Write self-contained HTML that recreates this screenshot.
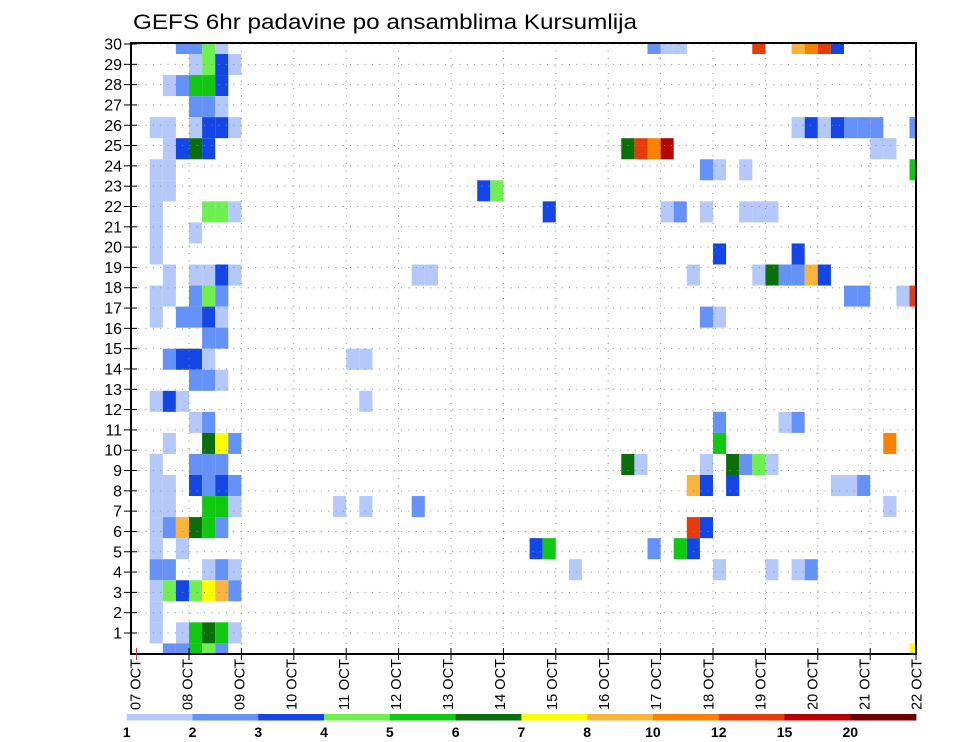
<!DOCTYPE html>
<html><head><meta charset="utf-8"><style>
html,body{margin:0;padding:0;background:#fff;}
svg{display:block;font-family:"Liberation Sans",sans-serif;}
</style></head><body>
<svg id="chart" width="960" height="742" viewBox="0 0 960 742">
<text x="133" y="29" font-size="21" textLength="504" lengthAdjust="spacingAndGlyphs" fill="#000">GEFS 6hr padavine po ansamblima Kursumlija</text>
<g id="cells"></g>
<g id="grid"></g>
<rect x="131" y="43" width="785" height="611" fill="none" stroke="#000" stroke-width="2"/>
<g id="yaxis"></g>
<g id="xaxis"></g>
<g id="colorbar"></g>
</svg>
<script>
const NS="http://www.w3.org/2000/svg";
// data: ensemble member, 6-hour step index, precipitation value (mm)
const cellMember=[30,30,30,30,30,30,30,30,30,30,30,30, 29,29,29,29, 28,28,28,28,28, 27,27,27,
26,26,26,26,26,26,26,26,26,26,26,26,26,26, 25,25,25,25,25,25,25,25,25,25, 24,24,24,24,24,24, 23,23,23,23,
22,22,22,22,22,22,22,22,22,22,22, 21,21, 20,20,20, 19,19,19,19,19,19,19,19,19,19,19,19,19,19,
18,18,18,18,18,18,18,18,18, 17,17,17,17,17,17,17, 16,16, 15,15,15,15,15,15, 14,14,14, 13,13,13,13,
12,12,12,12,12, 11,11,11,11,11,11, 10,10,10,10,10,10,10,10,10,10,10, 9,9,9,9,9,9,9,9,9,9,9,9,
8,8,8,8,8,8,8,8,8, 7,7,7,7,7,7,7,7, 6,6,6,6,6,6,6, 5,5,5,5,5,5,5,5,5,5, 4,4,4,4,4,4,4, 3, 2,2,2,2,2,2, 1,1,1,1,1,1];
const cellStep=[3,4,5,6,39,40,41,47,50,51,52,53, 4,5,6,7, 2,3,4,5,6, 4,5,6,
1,2,4,5,6,7,50,51,52,53,54,55,56,59, 2,3,4,5,37,38,39,40,56,57, 1,2,43,44,46,59, 1,2,26,27,
1,5,6,7,31,40,41,43,46,47,48, 1,4, 1,44,50, 2,4,5,6,7,21,22,42,47,48,49,50,51,52,
1,2,4,5,6,54,55,58,59, 1,3,4,5,6,43,44, 5,6, 2,3,4,5,16,17, 4,5,6, 1,2,3,17,
4,5,44,49,50, 2,5,6,7,44,57, 1,4,5,6,37,38,43,45,46,47,48, 1,2,4,5,6,7,42,43,45,53,54,55,
1,2,5,6,7,15,17,21,57, 1,2,3,4,5,6,42,43, 1,3,30,31,39,41,42, 1,2,5,6,7,33,44,48,50,51, 1,2,3,4,5,6,7, 1, 1,3,4,5,6,7, 2,3,4,5,6,59];
const cellValue=[2.5,2.5,4.5,1.5,2.5,1.5,1.5,13.5,9,11,13.5,3.5, 1.5,4.5,3.5,1.5, 1.5,2.5,5.5,5.5,3.5, 2.5,2.5,1.5,
1.5,1.5,1.5,3.5,3.5,1.5,1.5,3.5,1.5,3.5,2.5,2.5,2.5,2.5, 1.5,3.5,6.5,3.5,6.5,13.5,11,17,1.5,1.5, 1.5,1.5,2.5,1.5,1.5,5.5, 1.5,1.5,3.5,4.5,
1.5,4.5,4.5,1.5,3.5,1.5,2.5,1.5,1.5,1.5,1.5, 1.5,1.5, 1.5,3.5,3.5, 1.5,1.5,1.5,3.5,1.5,1.5,1.5,1.5,1.5,6.5,2.5,2.5,9,3.5,
1.5,1.5,2.5,4.5,2.5,2.5,2.5,1.5,13.5, 1.5,2.5,2.5,3.5,1.5,2.5,1.5, 2.5,2.5, 2.5,3.5,3.5,1.5,1.5,1.5, 2.5,2.5,1.5, 1.5,3.5,1.5,1.5,
1.5,2.5,2.5,1.5,2.5, 1.5,6.5,7.5,2.5,5.5,11, 1.5,2.5,2.5,2.5,6.5,1.5,1.5,6.5,2.5,4.5,1.5, 1.5,1.5,3.5,2.5,3.5,2.5,9,3.5,3.5,1.5,1.5,2.5,
1.5,1.5,5.5,5.5,1.5,1.5,1.5,2.5,1.5, 1.5,2.5,9,6.5,5.5,2.5,13.5,3.5, 1.5,1.5,3.5,5.5,2.5,5.5,3.5, 2.5,2.5,1.5,2.5,1.5,1.5,1.5,1.5,1.5,2.5, 1.5,4.5,3.5,4.5,7.5,9,2.5, 1.5, 1.5,1.5,5.5,6.5,5.5,1.5, 2.5,2.5,5.5,4.5,2.5,7.5];
const levelBounds=[1,2,3,4,5,6,7,8,10,12,15,20];
const levelColors=["#b4c8fa","#6492f8","#1446e6","#6ef050","#10c810","#0a6e0a","#ffff00","#fab43c","#fa8200","#e63c0a","#b40000","#6e0000"];
const dayLabels=["07","08","09","10","11","12","13","14","15","16","17","18","19","20","21","22"];
const memberTicks=[1,2,3,4,5,6,7,8,9,10,11,12,13,14,15,16,17,18,19,20,21,22,23,24,25,26,27,28,29,30];

// axis functions
const X0=136.6, CW=13.1, PL=131, PR=916, PT=43, PB=654;
function xStep(k){return X0+CW*k;}
function xDay(d){return X0+52.4*d;}
function yCellTop(m){return 54+(29-m)*21.05;}
const RH=21.05;
function yTick(m){return 633-(m-1)*20.31;}
function colorOf(v){let i=0;for(let j=0;j<levelBounds.length;j++){if(v>=levelBounds[j])i=j;}return levelColors[i];}

const gC=document.getElementById('cells');
for(let i=0;i<cellMember.length;i++){
  let x=xStep(cellStep[i]), y=yCellTop(cellMember[i]);
  let x2=Math.min(x+CW,PR), y2=Math.min(y+RH,PB);
  let x1=Math.max(x,PL), y1=Math.max(y,PT);
  const r=document.createElementNS(NS,'rect');
  r.setAttribute('x',x1);r.setAttribute('y',y1);
  r.setAttribute('width',Math.max(0,x2-x1));r.setAttribute('height',Math.max(0,y2-y1));
  r.setAttribute('fill',colorOf(cellValue[i]));
  
  
  gC.appendChild(r);
}
const gG=document.getElementById('grid');
for(const m of memberTicks){
  const l=document.createElementNS(NS,'line');
  l.setAttribute('x1',PL);l.setAttribute('x2',PR);l.setAttribute('y1',yTick(m));l.setAttribute('y2',yTick(m));
  l.setAttribute('stroke','#8a8a8a');l.setAttribute('stroke-width','1');l.setAttribute('stroke-dasharray','1 6.3');
  
  
  gG.appendChild(l);
}
for(let d=1;d<dayLabels.length-1;d++){
  const l=document.createElementNS(NS,'line');
  l.setAttribute('x1',xDay(d));l.setAttribute('x2',xDay(d));l.setAttribute('y1',PT);l.setAttribute('y2',PB);
  l.setAttribute('stroke','#8a8a8a');l.setAttribute('stroke-width','1');l.setAttribute('stroke-dasharray','1 6.5');
  
  
  gG.appendChild(l);
}
const gY=document.getElementById('yaxis');
for(const m of memberTicks){
  const y=yTick(m);
  const t=document.createElementNS(NS,'line');
  t.setAttribute('x1',124);t.setAttribute('x2',137);t.setAttribute('y1',y);t.setAttribute('y2',y);t.setAttribute('stroke','#000');t.setAttribute('stroke-width','1');
  
  
  gY.appendChild(t);
  const tx=document.createElementNS(NS,'text');
  tx.setAttribute('x',122);tx.setAttribute('y',y+5.5);tx.setAttribute('text-anchor','end');tx.setAttribute('font-size','16');
  tx.textContent=m;
  
  
  gY.appendChild(tx);
}
const gX=document.getElementById('xaxis');
for(let d=0;d<dayLabels.length;d++){
  const x=Math.min(xDay(d),PR);
  const t=document.createElementNS(NS,'line');
  t.setAttribute('x1',x);t.setAttribute('x2',x);t.setAttribute('y1',PB-6);t.setAttribute('y2',PB+6);t.setAttribute('stroke',d==0?'#c03030':'#000');t.setAttribute('stroke-width','1');
  
  
  gX.appendChild(t);
  const lx=135+52.07*d;
  const tx=document.createElementNS(NS,'text');
  tx.setAttribute('transform','translate('+(lx+5.5)+',710) rotate(-90)');
  tx.setAttribute('font-size','15');tx.setAttribute('textLength','51');tx.setAttribute('lengthAdjust','spacingAndGlyphs');
  tx.textContent=dayLabels[d]+' OCT';
  
  
  gX.appendChild(tx);
}
const gB=document.getElementById('colorbar');
const CB0=126.7, CBW=65.78;
for(let i=0;i<levelColors.length;i++){
  const r=document.createElementNS(NS,'rect');
  r.setAttribute('x',CB0+i*CBW);r.setAttribute('y',714);r.setAttribute('width',CBW+0.3);r.setAttribute('height',6.5);r.setAttribute('fill',levelColors[i]);
  
  
  gB.appendChild(r);
  const tx=document.createElementNS(NS,'text');
  tx.setAttribute('x',CB0+i*CBW);tx.setAttribute('y',737);tx.setAttribute('text-anchor','middle');tx.setAttribute('font-size','14');tx.setAttribute('font-weight','bold');
  tx.textContent=levelBounds[i];
  
  
  gB.appendChild(tx);
}
</script>
</body></html>
